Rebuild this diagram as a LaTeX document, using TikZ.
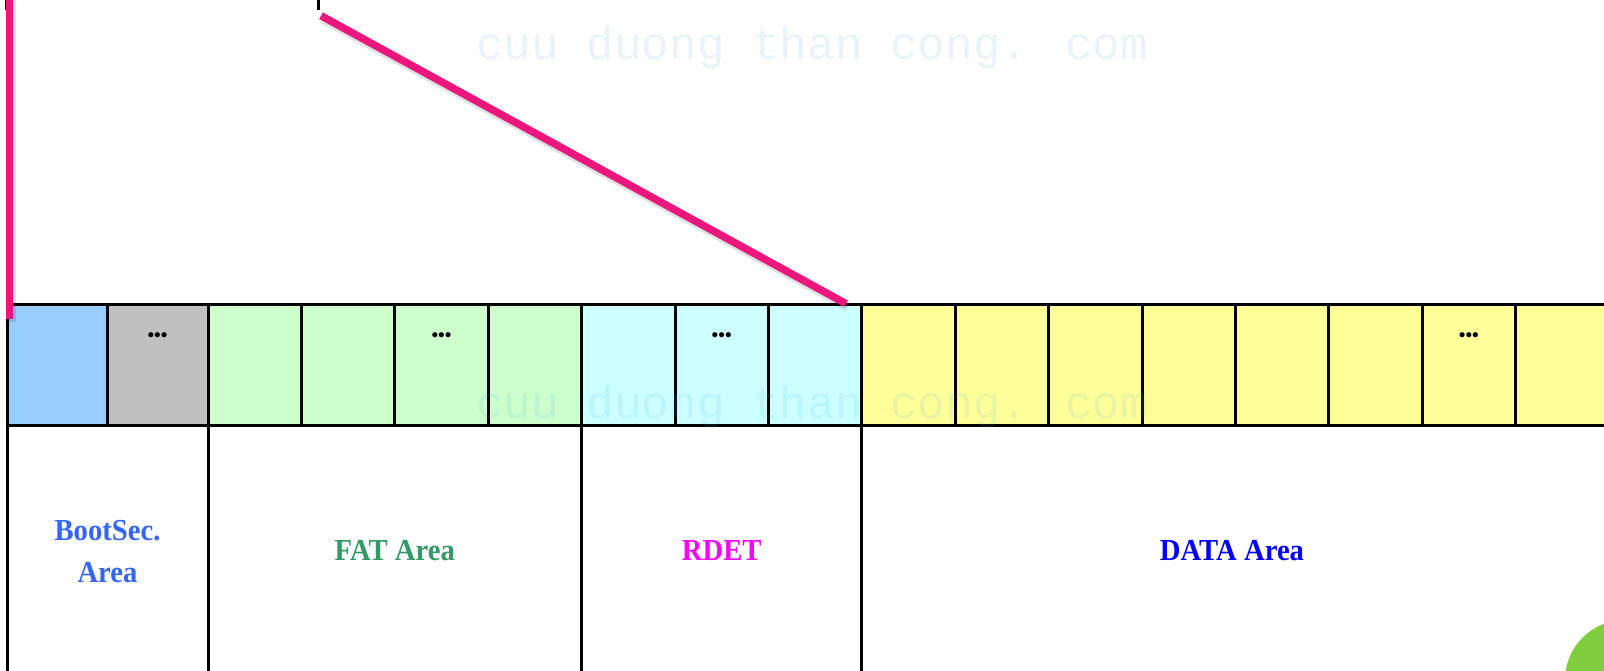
\documentclass[tikz,border=0pt]{standalone}
\usepackage{fontspec}
\setmainfont{Liberation Serif}
\newfontfamily\wmfont{Liberation Mono}
\usetikzlibrary{calc}

% fills of the sector groups
\definecolor{bootfill}{RGB}{153,204,255}
\definecolor{resfill}{RGB}{192,192,192}
\definecolor{fatfill}{RGB}{204,255,204}
\definecolor{rdetfill}{RGB}{204,255,255}
\definecolor{datafill}{RGB}{255,255,153}
% label colours
\definecolor{bootink}{RGB}{51,102,255}
\definecolor{fatink}{RGB}{51,153,102}
\definecolor{rdetink}{RGB}{255,0,255}
\definecolor{dataink}{RGB}{0,0,255}
% other
\definecolor{zoomline}{RGB}{236,22,124}
\definecolor{wmink}{RGB}{80,170,220}
\definecolor{badge}{RGB}{128,206,64}

\tikzset{
  cellbox/.style={draw=black, line width=3pt, inner sep=0pt, outer sep=0pt,
                  minimum height=121.5pt, anchor=north west},
  regionbox/.style={draw=black, line width=3pt, inner sep=0pt, outer sep=0pt,
                    minimum height=280pt, anchor=north west},
  areatext/.style={font=\fontsize{30.5}{34}\selectfont\bfseries, inner sep=0pt,
                   anchor=base, xscale=0.94},
  dots/.style={font=\fontsize{19}{19}\selectfont\bfseries, inner sep=0pt},
  wm/.style={font=\wmfont\fontsize{46}{46}\selectfont, text=wmink, text opacity=0.13,
             inner sep=0pt, anchor=base west},
  zoomlink/.style={draw=zoomline, line width=7.5pt},
  zoomshadow/.style={draw=black, opacity=0.12, line width=8pt},
}

\begin{document}
\begin{tikzpicture}[x=1pt,y=-1pt]
\useasboundingbox (0,0) rectangle (1604,670);
\clip (0,0) rectangle (1604,670);
\fill[white] (0,0) rectangle (1604,670);

% lower area boxes
\node[regionbox, minimum width=201pt]   (bootarea) at (7,425.5) {};
\node[regionbox, minimum width=373.6pt] (fatarea)  at (208,425.5) {};
\node[regionbox, minimum width=280.2pt] (rdetarea) at (581.6,425.5) {};
\node[regionbox, minimum width=900pt]   (dataarea) at (861.8,425.5) {};

% row of sectors
\foreach \a/\b/\f/\n in {
   7/107.5/bootfill/1, 107.5/208/resfill/2,
   208/301.4/fatfill/3, 301.4/394.8/fatfill/4, 394.8/488.2/fatfill/5, 488.2/581.6/fatfill/6,
   581.6/675/rdetfill/7, 675/768.4/rdetfill/8, 768.4/861.8/rdetfill/9,
   861.8/955.2/datafill/10, 955.2/1048.6/datafill/11, 1048.6/1142/datafill/12,
   1142/1235.4/datafill/13, 1235.4/1328.8/datafill/14, 1328.8/1422.2/datafill/15,
   1422.2/1515.6/datafill/16, 1515.6/1609/datafill/17}
  \node[cellbox, fill=\f, minimum width={(\b-\a)*1pt}] (cell\n) at (\a,304) {};

% ellipsis marks
\node[dots] (dotsres)  at (157.5,337) {•••};
\node[dots] (dotsfat)  at (441.5,337) {•••};
\node[dots] (dotsrdet) at (721.7,337) {•••};
\node[dots] (dotsdata) at (1468.9,337) {•••};

% area labels
\node[areatext, text=bootink] (bootlbl1) at (107.5,540) {BootSec.};
\node[areatext, text=bootink] (bootlbl2) at (107.5,582) {Area};
\node[areatext, text=fatink]  (fatlbl)   at (394.8,560) {FAT Area};
\node[areatext, text=rdetink] (rdetlbl)  at (721.7,560) {RDET};
\node[areatext, text=dataink] (datalbl)  at (1232,560) {DATA Area};

% watermark
\node[wm] (wmtop) at (476,59)  {cuu duong than cong. com};
\node[wm] (wmmid) at (476,418) {cuu duong than cong. com};

% ticks of the box above
\draw[line width=2.5pt] (6,0) -- (6,10);
\draw[line width=3pt] (318.3,0) -- (318.3,10);

% zoom lines
\coordinate (za) at (9.7,-5);
\coordinate (zb) at (9.7,319);
\coordinate (zc) at (321,15.7);
\coordinate (zd) at (846,303.7);
\draw[zoomshadow] ($(za)+(2,3)$) -- ($(zb)+(2,3)$);
\draw[zoomshadow] ($(zc)+(1.5,3.5)$) -- ($(zd)+(1.5,3.5)$);
\draw[zoomlink] (za) -- (zb);
\draw[zoomlink] (zc) -- (zd);

% corner badge
\fill[badge] (1625,680) circle (60pt);
\end{tikzpicture}
\end{document}
